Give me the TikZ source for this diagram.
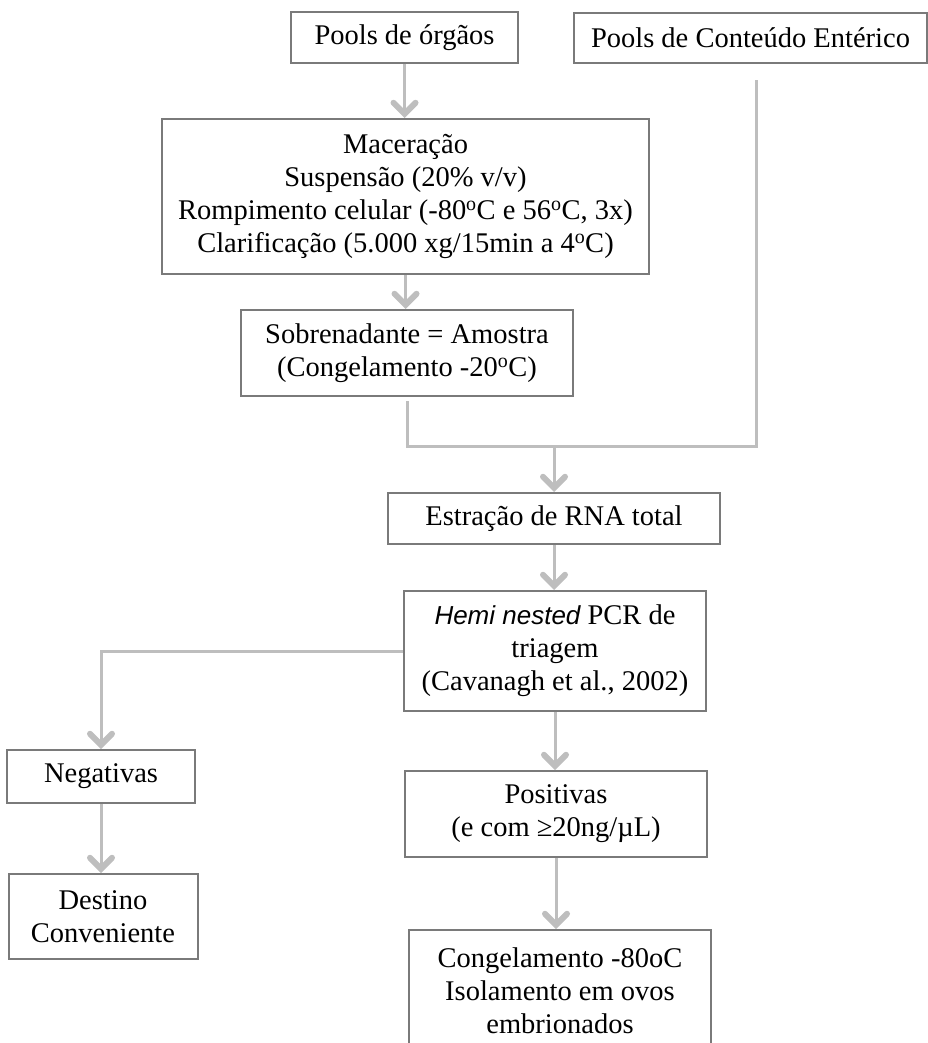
\documentclass[tikz,border=0pt]{standalone}
\usepackage{fontspec}
\setmainfont{Liberation Serif}
\newfontfamily\arialfont{Liberation Sans}
\usepackage{tikz}
\usetikzlibrary{arrows.meta}
\definecolor{bordacinza}{HTML}{7A7A7A}
\definecolor{setacinza}{HTML}{BEBEBE}

\begin{document}
\begin{tikzpicture}[x=1pt,y=-1pt,
  caixa/.style={draw=bordacinza,line width=2pt,rectangle,align=center,inner sep=0pt,
    font=\fontsize{28.5}{33}\selectfont},
  linha/.style={draw=setacinza,line width=3pt},
  seta/.style={linha,-{Straight Barb[length=11pt,width=22pt,line width=6pt,line cap=round]}}]
  \useasboundingbox (0,0) rectangle (928,1043);
  % caixas
  \node[caixa,minimum width=227pt,minimum height=51pt] (orgaos) at (404.5,37.5) {Pools de órgãos};
  \node[caixa,minimum width=353pt,minimum height=50pt] (enterico) at (750.5,38) {Pools de Conteúdo Entérico};
  \node[caixa,minimum width=487pt,minimum height=155pt] (macer) at (405.5,196.5) {Maceração\\Suspensão (20\% v/v)\\Rompimento celular (-80\textsuperscript{o}C e 56\textsuperscript{o}C, 3x)\\Clarificação (5.000 xg/15min a 4\textsuperscript{o}C)};
  \node[caixa,minimum width=332pt,minimum height=86pt] (sobren) at (407,353) {Sobrenadante = Amostra\\(Congelamento -20\textsuperscript{o}C)};
  \node[caixa,minimum width=332pt,minimum height=51pt] (rna) at (554,518.5) {Estração de RNA total};
  \node[caixa,minimum width=302pt,minimum height=120pt] (pcr) at (555,651) {{\arialfont\itshape\fontsize{26}{33}\selectfont Hemi nested} PCR de\\triagem\\(Cavanagh et al., 2002)};
  \node[caixa,minimum width=188pt,minimum height=53pt] (neg) at (101,776.5) {Negativas};
  \node[caixa,minimum width=189pt,minimum height=85pt] (dest) at (103,916.5) {Destino\\Conveniente};
  \node[caixa,minimum width=302pt,minimum height=86pt] (pos) at (556,814) {Positivas\\(e com ≥20ng/µL)};
  \node[caixa,minimum width=302pt,minimum height=122pt] (cong) at (560,991) {Congelamento -80oC\\Isolamento em ovos\\embrionados};
  % ligacoes
  \coordinate (entrada) at (756,80);
  \coordinate (canto) at (756,446);
  \draw[seta] (orgaos.south) -- (macer.north -| orgaos.south);
  \draw[seta] (macer.south) -- (sobren.north -| macer.south);
  \draw[linha] ([yshift=-4pt]sobren.south) |- (canto) -- (entrada);
  \draw[seta] (rna.north |- canto) -- (rna.north);
  \draw[seta] (rna.south) -- (pcr.north -| rna.south);
  \draw[seta] (pcr.west) -| (neg.north);
  \draw[seta] (neg.south) -- (dest.north -| neg.south);
  \draw[seta] (pcr.south) -- (pos.north -| pcr.south);
  \draw[seta] (pos.south) -- (cong.north -| pos.south);
\end{tikzpicture}
\end{document}
